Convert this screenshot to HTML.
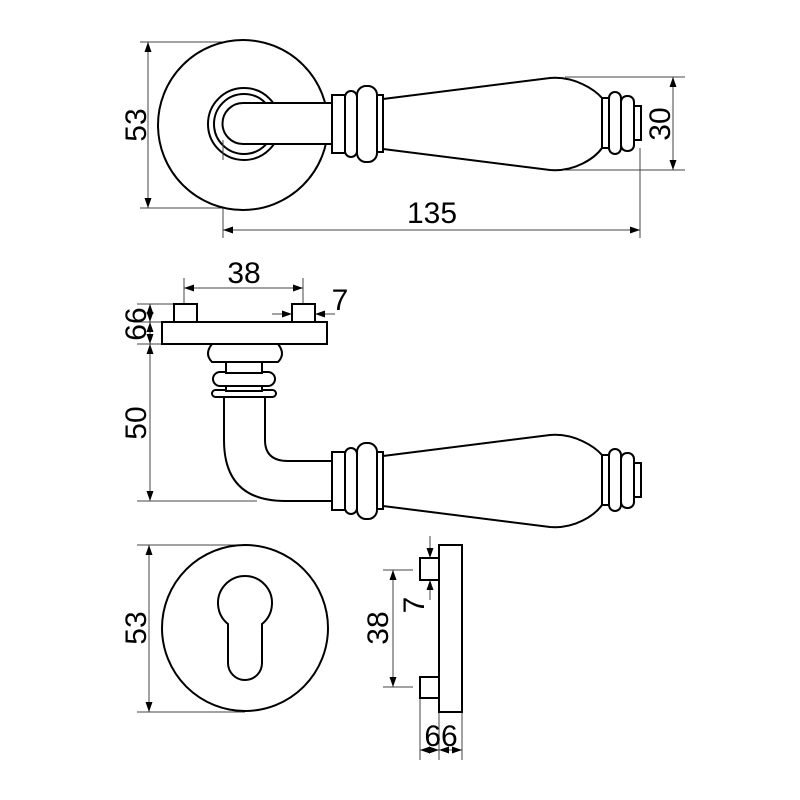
<!DOCTYPE html>
<html><head><meta charset="utf-8"><style>html,body{margin:0;padding:0;background:#fff}svg{display:block}text{font-family:"Liberation Sans",sans-serif;fill:#000}</style></head>
<body>
<svg width="800" height="800" viewBox="0 0 800 800" xmlns="http://www.w3.org/2000/svg">
<defs>
<marker id="a" viewBox="0 0 10 10" refX="10" refY="5" markerWidth="10" markerHeight="10" markerUnits="userSpaceOnUse" orient="auto-start-reverse"><path d="M0,1.5 L10,5 L0,8.5 z" fill="#000"/></marker>
<g id="lever">
<rect x="332" y="95" width="13" height="58" fill="#fff" stroke="#000" stroke-width="2"/>
<rect x="345" y="91" width="12" height="66" rx="6" fill="#fff" stroke="#000" stroke-width="2"/>
<rect x="357" y="86" width="20" height="76" rx="9" fill="#fff" stroke="#000" stroke-width="2"/>
<rect x="377" y="95" width="6" height="57" fill="#fff" stroke="#000" stroke-width="2"/>
<path d="M383,99 L550,78 C575,76 595,90 602,98 L602,148 C595,158 575,172 550,170 L383,149 Z" fill="#fff" stroke="#000" stroke-width="2"/>
<rect x="602" y="98" width="7" height="50" fill="#fff" stroke="#000" stroke-width="2"/>
<rect x="609" y="92" width="12" height="62" rx="6" fill="#fff" stroke="#000" stroke-width="2"/>
<rect x="621" y="96" width="13" height="55" rx="6" fill="#fff" stroke="#000" stroke-width="2"/>
<rect x="634" y="106" width="7" height="34" fill="#fff" stroke="#000" stroke-width="2"/>
</g>
</defs>
<g stroke="#444" stroke-width="1" fill="none">
<line x1="140" y1="42" x2="243" y2="42"/><line x1="140" y1="208" x2="243" y2="208"/>
<line x1="148" y1="42" x2="148" y2="208" marker-start="url(#a)" marker-end="url(#a)"/>
<line x1="565" y1="77" x2="685" y2="77"/><line x1="565" y1="170" x2="685" y2="170"/>
<line x1="673" y1="77" x2="673" y2="170" marker-start="url(#a)" marker-end="url(#a)"/>
<line x1="223" y1="140" x2="223" y2="238"/><line x1="640" y1="148" x2="640" y2="238"/>
<line x1="223" y1="230" x2="640" y2="230" marker-start="url(#a)" marker-end="url(#a)"/>
<line x1="184" y1="278" x2="184" y2="303"/><line x1="303" y1="278" x2="303" y2="303"/>
<line x1="184" y1="288" x2="303" y2="288" marker-start="url(#a)" marker-end="url(#a)"/>
<line x1="272" y1="314" x2="292" y2="314" marker-end="url(#a)"/>
<line x1="335" y1="314" x2="315" y2="314" marker-end="url(#a)"/>
<line x1="137" y1="304" x2="174" y2="304"/><line x1="137" y1="322" x2="162" y2="322"/><line x1="137" y1="344" x2="162" y2="344"/>
<line x1="150" y1="304" x2="150" y2="322" marker-start="url(#a)" marker-end="url(#a)"/>
<line x1="150" y1="322" x2="150" y2="344" marker-start="url(#a)" marker-end="url(#a)"/>
<line x1="150" y1="344" x2="150" y2="501" marker-start="url(#a)" marker-end="url(#a)"/>
<line x1="137" y1="501" x2="257" y2="501"/>
<line x1="137" y1="545" x2="245" y2="545"/><line x1="137" y1="712" x2="245" y2="712"/>
<line x1="149" y1="545" x2="149" y2="712" marker-start="url(#a)" marker-end="url(#a)"/>
<line x1="383" y1="570" x2="413" y2="570"/><line x1="383" y1="687" x2="413" y2="687"/>
<line x1="393" y1="570" x2="393" y2="687" marker-start="url(#a)" marker-end="url(#a)"/>
<line x1="430" y1="536" x2="430" y2="558" marker-end="url(#a)"/>
<line x1="430" y1="600" x2="430" y2="580" marker-end="url(#a)"/>
<line x1="420" y1="698" x2="420" y2="760"/><line x1="439" y1="712" x2="439" y2="760"/><line x1="462" y1="712" x2="462" y2="760"/>
<line x1="420" y1="750" x2="439" y2="750" marker-start="url(#a)" marker-end="url(#a)"/>
<line x1="439" y1="750" x2="462" y2="750" marker-start="url(#a)" marker-end="url(#a)"/>
</g>
<g stroke="#000" stroke-width="2" fill="#fff">
<circle cx="243" cy="125" r="85"/>
<circle cx="244" cy="124" r="36"/>
<circle cx="244" cy="124" r="30"/>
<path d="M332,103 L243,103 A20.5,20.5 0 0 0 243,144 L332,144"/>
</g>
<line x1="223" y1="140" x2="223" y2="160" stroke="#444" stroke-width="1"/>
<use href="#lever"/>
<g stroke="#000" stroke-width="2" fill="#fff">
<rect x="174" y="304" width="23" height="18"/>
<rect x="292" y="304" width="23" height="18"/>
<rect x="162" y="322" width="165" height="22"/>
<path d="M224,397 L224,440 Q224,501 285,501 L333,501 L333,461 L288,461 Q265,461 265,440 L265,397 Z"/>
<rect x="212" y="390" width="64" height="7" rx="3.5"/>
<rect x="226" y="385" width="36" height="6"/>
<rect x="213" y="372" width="62" height="14" rx="7"/>
<rect x="226" y="362" width="36" height="11"/>
<path d="M212,344 Q204,354 212,362 L278,362 Q286,354 278,344 Z"/>
</g>
<use href="#lever" transform="translate(0,357)"/>
<g stroke="#000" stroke-width="2" fill="#fff">
<circle cx="245" cy="628" r="83"/>
<path d="M228,624 A27,27 0 1 1 262,624 L262,663 A17,17 0 0 1 228,663 Z"/>
<rect x="439" y="545" width="23" height="167"/>
<rect x="420" y="558" width="19" height="22"/>
<rect x="420" y="677" width="19" height="21"/>
</g>
<g font-size="30">
<text transform="translate(146,125) rotate(-90)" text-anchor="middle">53</text>
<text transform="translate(670,124) rotate(-90)" text-anchor="middle">30</text>
<text x="432" y="223" text-anchor="middle">135</text>
<text x="244" y="283" text-anchor="middle">38</text>
<text x="340" y="310" text-anchor="middle">7</text>
<text transform="translate(146,324) rotate(-90)" text-anchor="middle">66</text>
<text transform="translate(146,423) rotate(-90)" text-anchor="middle">50</text>
<text transform="translate(146,628) rotate(-90)" text-anchor="middle">53</text>
<text transform="translate(388,628) rotate(-90)" text-anchor="middle">38</text>
<text transform="translate(424,605) rotate(-90)" text-anchor="middle">7</text>
<text x="441" y="746" text-anchor="middle">66</text>
</g>
</svg>
</body></html>
